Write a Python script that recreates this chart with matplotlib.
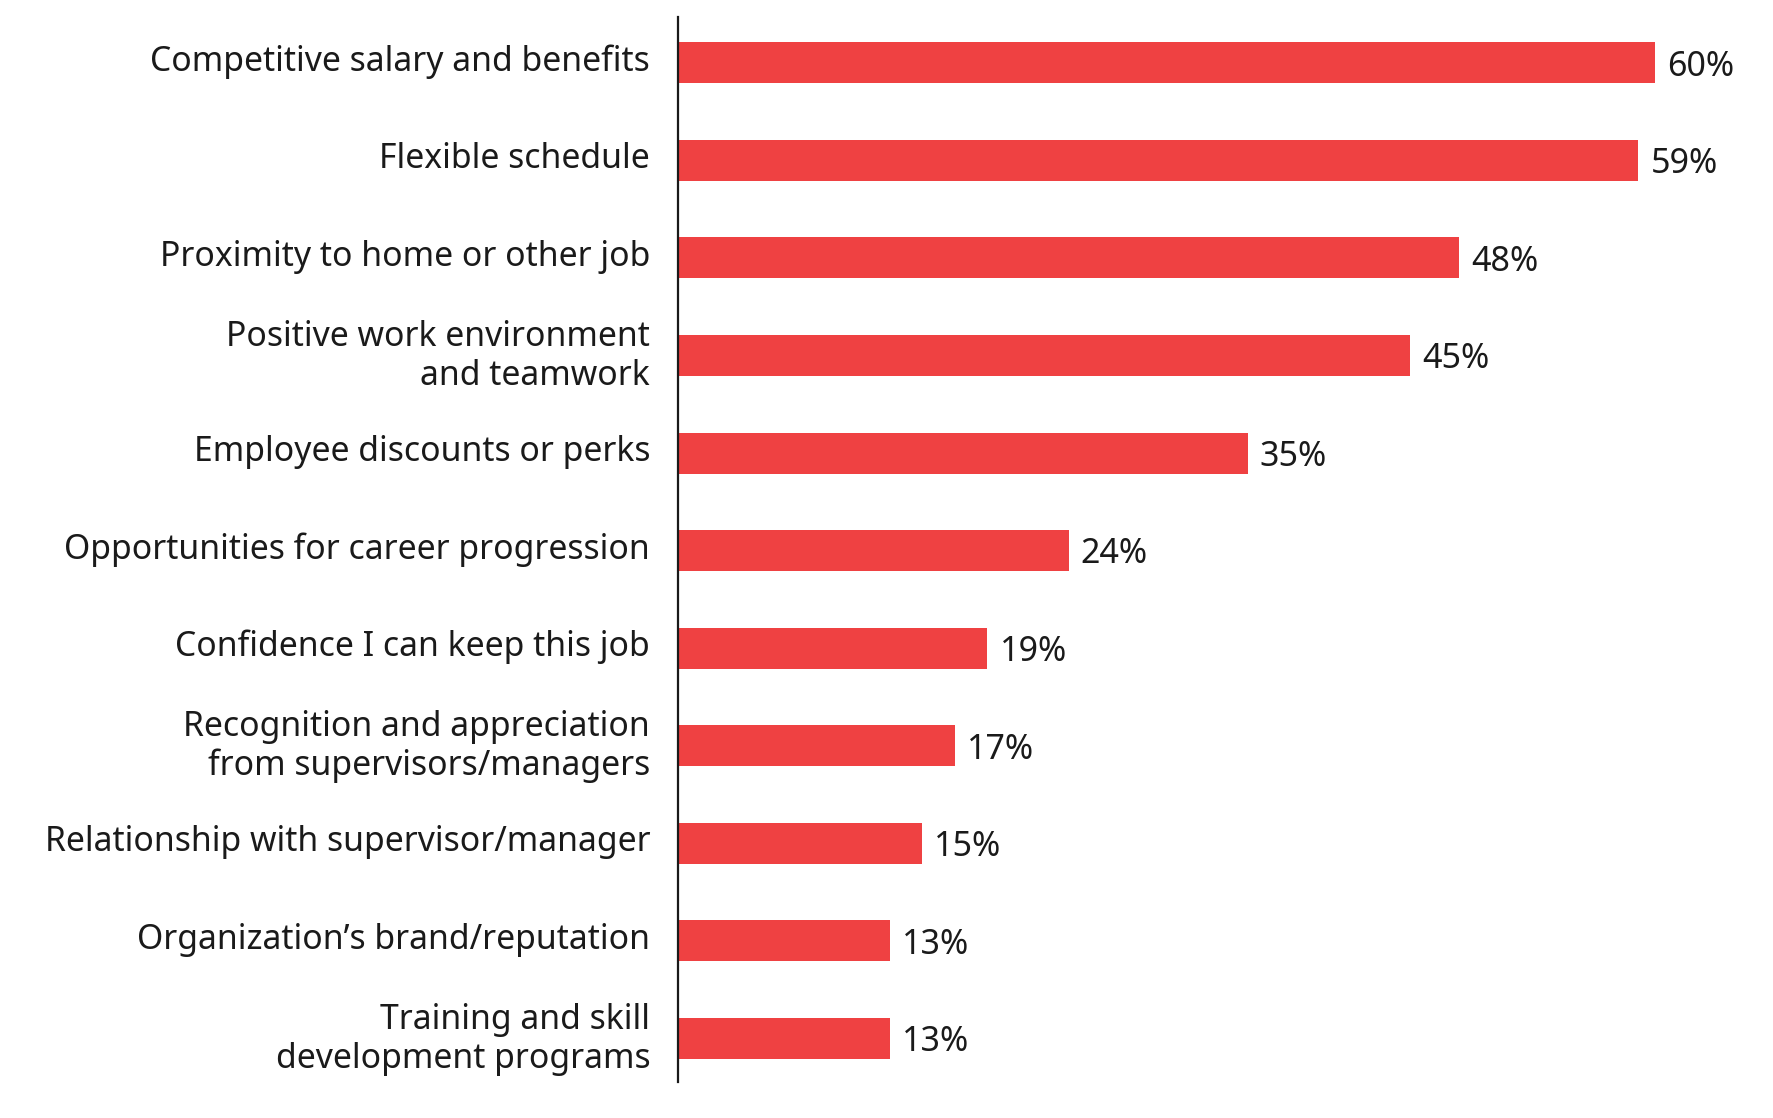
import matplotlib.pyplot as plt
import matplotlib.transforms as mtransforms

categories = [
    "Competitive salary and benefits",
    "Flexible schedule",
    "Proximity to home or other job",
    "Positive work environment\nand teamwork",
    "Employee discounts or perks",
    "Opportunities for career progression",
    "Confidence I can keep this job",
    "Recognition and appreciation\nfrom supervisors/managers",
    "Relationship with supervisor/manager",
    "Organization\u2019s brand/reputation",
    "Training and skill\ndevelopment programs",
]
values = [60, 59, 48, 45, 35, 24, 19, 17, 15, 13, 13]

bar_color = "#EF4142"
text_color = "#1a1a1a"

plt.rcParams['font.family'] = ['Noto Sans', 'DejaVu Sans']

fig = plt.figure(figsize=(17.74, 11.18), dpi=100)
ax = fig.add_axes([0.3822, 0.032, 0.60, 0.9528])

y = list(range(len(categories)))
ax.barh(y, values, height=0.42, color=bar_color)

# percentage labels just right of each bar
for yi, v in zip(y, values):
    ax.text(v + 0.75, yi + 0.04, f"{v}%", va='center', ha='left',
            fontsize=24.5, color=text_color)

ax.set_yticks(y)
ax.set_yticklabels(categories, fontsize=24.3, color=text_color, linespacing=1.17)
ax.tick_params(axis='y', length=0, pad=20)

# nudge the category labels up a little
shift = mtransforms.ScaledTranslation(0, 5 / 100, fig.dpi_scale_trans)
for lbl in ax.get_yticklabels():
    lbl.set_transform(lbl.get_transform() + shift)

ax.set_ylim(len(categories) - 0.55, -0.47)
ax.set_xlim(0, 65.4)
ax.set_xticks([])

for side in ['top', 'right', 'bottom']:
    ax.spines[side].set_visible(False)
ax.spines['left'].set_color(text_color)
ax.spines['left'].set_linewidth(1.6)

fig.savefig("out.png", dpi=100)
